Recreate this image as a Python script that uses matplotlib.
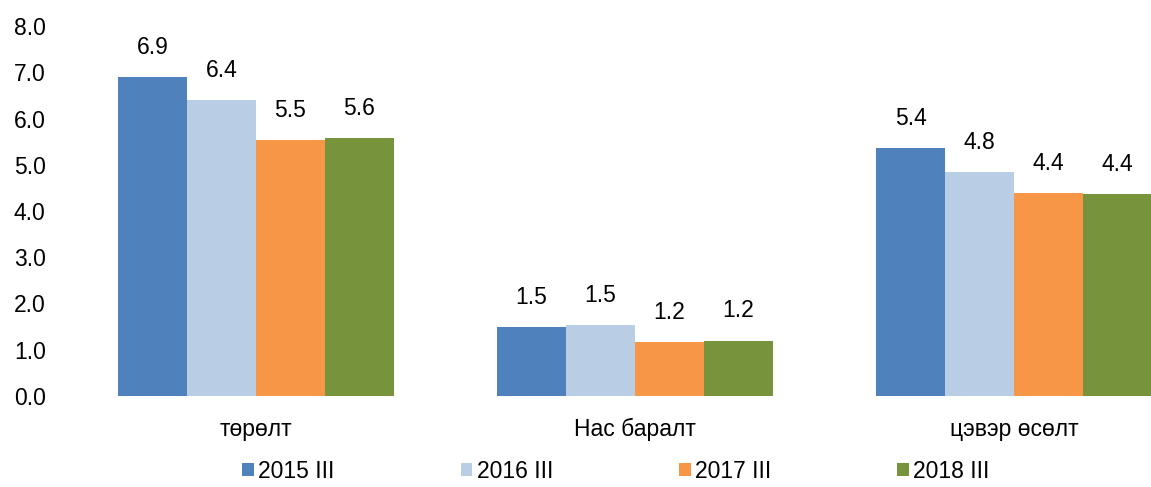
import numpy as np
import matplotlib.pyplot as plt

plt.rcParams['font.family'] = ['Liberation Sans', 'DejaVu Sans']

categories = ["төрөлт", "Нас баралт", "цэвэр өсөлт"]
series_names = ["2015 III", "2016 III", "2017 III", "2018 III"]
values_2015 = [6.89, 1.50, 5.36]
values_2016 = [6.39, 1.54, 4.84]
values_2017 = [5.54, 1.16, 4.38]
values_2018 = [5.57, 1.20, 4.36]
yticks = [0, 1, 2, 3, 4, 5, 6, 7, 8]

colors = ["#4F81BD", "#B9CDE5", "#F79646", "#77933C"]
all_values = [values_2015, values_2016, values_2017, values_2018]

fig = plt.figure(figsize=(11.51, 4.87), dpi=100)
ax = fig.add_axes([66.5 / 1151, (487 - 396) / 487, (1151 - 66.5) / 1151, 370 / 487])

x = np.arange(len(categories))
w = 69 / 379
for i, (vals, c, name) in enumerate(zip(all_values, colors, series_names)):
    pos = x + (i - 1.5) * w
    bars = ax.bar(pos, vals, width=w, color=c, label=name)
    for b, v in zip(bars, vals):
        ax.annotate(f"{v:.1f}", (b.get_x() + b.get_width() / 2, v),
                    xytext=(0, 13), textcoords="offset points",
                    ha="center", va="bottom", fontsize=16.5)

ax.set_xlim(-0.5, (1151 - 256) / 379)
ax.set_ylim(0, 8)
ax.set_yticks(yticks)
ax.set_yticklabels([f"{t:.1f}" for t in yticks])
ax.set_xticks(x)
ax.set_xticklabels(categories)
ax.tick_params(axis="y", length=0, pad=15, labelsize=16.5)
ax.tick_params(axis="x", length=0, pad=16, labelsize=16.5)
for s in ax.spines.values():
    s.set_visible(False)

fig.legend(loc="center", bbox_to_anchor=(616 / 1151, 1 - 471 / 487), ncol=4,
           frameon=False, fontsize=16.5, handlelength=0.5, handleheight=0.5,
           handletextpad=0.2, columnspacing=5.5)

fig.savefig("out.png", dpi=100)
